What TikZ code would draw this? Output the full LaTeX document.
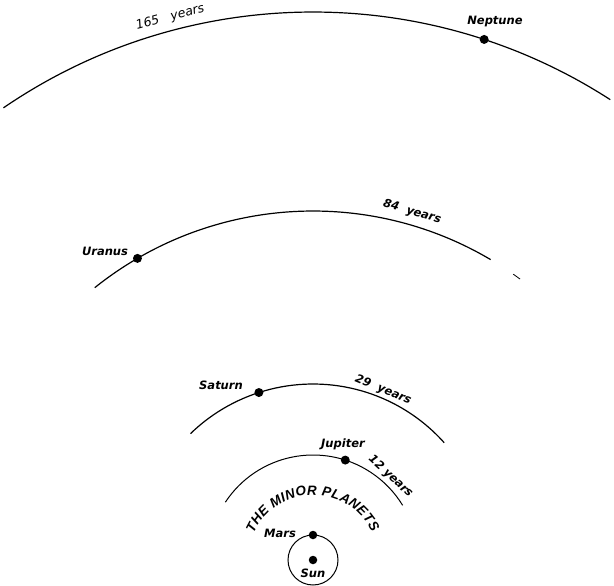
\documentclass[tikz,border=0pt]{standalone}
\usepackage{fontspec}
\setsansfont{DejaVu Sans}
\newfontfamily\minorff{Liberation Sans}
\usetikzlibrary{decorations.text}
\newcommand\minorfont{\fontsize{13.5}{15}\selectfont\minorff\bfseries\itshape}
\begin{document}
\begin{tikzpicture}[x=1pt,y=1pt,
  orbit/.style={line width=1.2pt},
  planet/.style={circle,fill=black,inner sep=0pt,minimum size=9pt},
  pname/.style={font=\fontsize{11.5}{12}\selectfont\sffamily\bfseries\itshape, inner sep=0pt},
  period/.style={font=\fontsize{11.5}{12}\selectfont\sffamily\bfseries\itshape, inner sep=0pt}]
\useasboundingbox (0,0) rectangle (614,-586);
\coordinate (S) at (313,-560);
% orbits
\draw[orbit] ([shift={(124.4:548)}]S) arc[start angle=124.4, end angle=57.15, radius=548];
\draw[orbit] ([shift={(128.7:349)}]S) arc[start angle=128.7, end angle=59.4, radius=349];
\draw[line width=0.8pt] ([shift={(55:349)}]S) arc[start angle=55, end angle=53.6, radius=349];
\draw[orbit] ([shift={(134.1:176)}]S) arc[start angle=134.1, end angle=41.8, radius=176];
\draw[line width=1pt] ([shift={(146.6:105)}]S) arc[start angle=146.6, end angle=31.4, radius=105];
\draw[line width=1pt] (S) circle[radius=25];
% planets
\node[planet] (nep) at ([shift={(71.8:548)}]S) {};
\node[planet] (ura) at ([shift={(120.2:349)}]S) {};
\node[planet] (sat) at ([shift={(107.9:176)}]S) {};
\node[planet] (jup) at ([shift={(72.1:105)}]S) {};
\node[planet,minimum size=8.5pt] (mar) at ([shift={(90:25)}]S) {};
\node[planet,minimum size=8.5pt] (sun) at (S) {};
% names
\node[pname] (nepl) at (495,-22) {Neptune};
\node[pname] (ural) at (105,-251) {Uranus};
\node[pname] (satl) at (221,-385) {Saturn};
\node[pname] (jupl) at (343,-444) {Jupiter};
\node[pname] (marl) at (280,-533) {Mars};
\node[pname] (sunl) at (313,-573) {Sun};
% periods
\node[period,font=\fontsize{12.5}{13}\selectfont\sffamily\itshape,rotate=14.75] (p165) at ([shift={(104.75:561)}]S) {165\ \ \ years};
\node[period,rotate=-15.9] (p84) at ([shift={(74.1:362)}]S) {84\ \ years};
\node[period,rotate=-22.4] (p29) at ([shift={(67.6:184)}]S) {29\ \ years};
\node[period,rotate=-42.9] (p12) at ([shift={(47.1:114)}]S) {12\ years};
% minor planets
\path[decorate, decoration={text along path, text={|\minorfont|THE MINOR PLANETS}, text align={fit to path}}]
  ([shift={(156:65)}]S) arc[start angle=156, end angle=25, radius=65];
\end{tikzpicture}
\end{document}
